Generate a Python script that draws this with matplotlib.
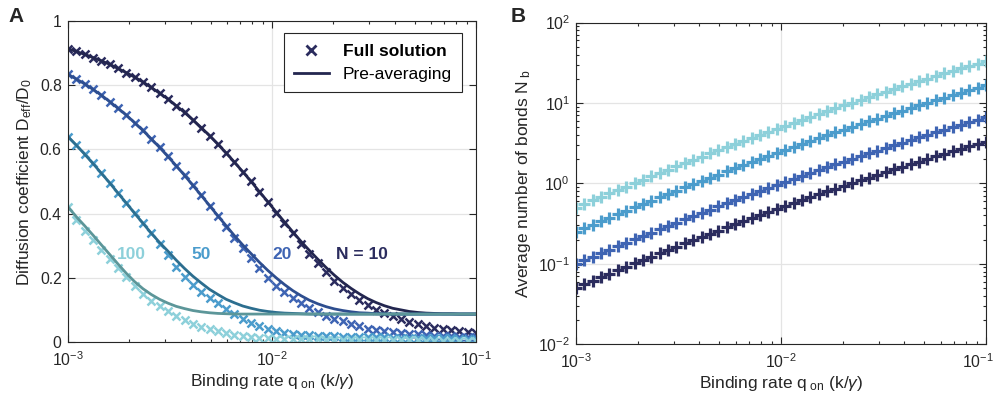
import matplotlib
matplotlib.use('Agg')
import matplotlib.pyplot as plt
import matplotlib.transforms as mtransforms
from matplotlib.lines import Line2D

plt.rcParams['font.family'] = ['Liberation Sans', 'DejaVu Sans']
plt.rcParams['mathtext.fontset'] = 'custom'
plt.rcParams['mathtext.rm'] = 'Liberation Sans'
plt.rcParams['mathtext.it'] = 'Liberation Sans:italic'
plt.rcParams['mathtext.bf'] = 'Liberation Sans:bold'

# binding rate q_on (k/gamma), 50 log-spaced samples
q_on = [0.001000, 0.001099, 0.001207, 0.001326, 0.001456, 0.001600, 0.001758, 0.001931, 0.002121, 0.002330,
        0.002560, 0.002812, 0.003089, 0.003393, 0.003728, 0.004095, 0.004498, 0.004942, 0.005429, 0.005964,
        0.006551, 0.007197, 0.007906, 0.008685, 0.009541, 0.010481, 0.011514, 0.012649, 0.013895, 0.015264,
        0.016768, 0.018421, 0.020236, 0.022230, 0.024421, 0.026827, 0.029471, 0.032375, 0.035565, 0.039069,
        0.042919, 0.047149, 0.051795, 0.056899, 0.062506, 0.068665, 0.075431, 0.082864, 0.091030, 0.100000]

N_values = [10, 20, 50, 100]
N_labels = ['N = 10', '20', '50', '100']

# panel A: pre-averaging (lines)
pre_10 = [0.913, 0.905, 0.896, 0.886, 0.876, 0.865, 0.852, 0.839, 0.825, 0.810,
          0.793, 0.775, 0.757, 0.736, 0.715, 0.692, 0.668, 0.643, 0.616, 0.589,
          0.560, 0.530, 0.500, 0.468, 0.437, 0.405, 0.374, 0.343, 0.313, 0.285,
          0.258, 0.232, 0.208, 0.186, 0.167, 0.150, 0.135, 0.123, 0.113, 0.105,
          0.100, 0.095, 0.092, 0.090, 0.089, 0.088, 0.088, 0.087, 0.087, 0.087]
pre_20 = [0.834, 0.819, 0.804, 0.787, 0.769, 0.749, 0.728, 0.707, 0.683, 0.659,
          0.633, 0.606, 0.578, 0.549, 0.519, 0.488, 0.457, 0.425, 0.393, 0.362,
          0.331, 0.302, 0.275, 0.248, 0.223, 0.200, 0.179, 0.160, 0.144, 0.130,
          0.119, 0.110, 0.103, 0.098, 0.094, 0.091, 0.090, 0.088, 0.088, 0.087,
          0.087, 0.087, 0.087, 0.087, 0.087, 0.087, 0.087, 0.087, 0.087, 0.087]
pre_50 = [0.640, 0.613, 0.585, 0.556, 0.526, 0.496, 0.464, 0.433, 0.401, 0.370,
          0.339, 0.310, 0.283, 0.255, 0.229, 0.205, 0.184, 0.164, 0.148, 0.133,
          0.122, 0.112, 0.105, 0.099, 0.095, 0.092, 0.090, 0.089, 0.088, 0.087,
          0.087, 0.087, 0.087, 0.087, 0.087, 0.087, 0.087, 0.087, 0.087, 0.087,
          0.087, 0.087, 0.087, 0.087, 0.087, 0.087, 0.087, 0.087, 0.087, 0.087]
pre_100 = [0.421, 0.390, 0.362, 0.333, 0.303, 0.273, 0.243, 0.214, 0.188, 0.166,
           0.148, 0.133, 0.121, 0.111, 0.104, 0.098, 0.094, 0.091, 0.089, 0.088,
           0.087, 0.087, 0.087, 0.087, 0.087, 0.087, 0.087, 0.087, 0.087, 0.087,
           0.087, 0.087, 0.087, 0.087, 0.087, 0.087, 0.087, 0.087, 0.087, 0.087,
           0.087, 0.087, 0.087, 0.087, 0.087, 0.087, 0.087, 0.087, 0.087, 0.087]

# panel A: full solution (x markers)
full_10 = [0.913, 0.905, 0.896, 0.886, 0.876, 0.865, 0.852, 0.839, 0.825, 0.810,
           0.793, 0.775, 0.757, 0.736, 0.715, 0.692, 0.668, 0.643, 0.616, 0.589,
           0.560, 0.530, 0.500, 0.468, 0.435, 0.402, 0.370, 0.338, 0.306, 0.275,
           0.245, 0.217, 0.191, 0.168, 0.148, 0.130, 0.114, 0.101, 0.091, 0.080,
           0.071, 0.063, 0.055, 0.049, 0.044, 0.040, 0.036, 0.033, 0.030, 0.027]
full_20 = [0.834, 0.819, 0.804, 0.787, 0.769, 0.749, 0.728, 0.707, 0.683, 0.659,
           0.633, 0.606, 0.578, 0.549, 0.519, 0.488, 0.457, 0.425, 0.391, 0.358,
           0.325, 0.293, 0.262, 0.229, 0.199, 0.175, 0.155, 0.137, 0.121, 0.106,
           0.093, 0.082, 0.072, 0.064, 0.056, 0.049, 0.042, 0.037, 0.034, 0.031,
           0.028, 0.026, 0.024, 0.022, 0.020, 0.019, 0.018, 0.017, 0.016, 0.015]
full_50 = [0.640, 0.613, 0.585, 0.556, 0.526, 0.496, 0.464, 0.433, 0.401, 0.370,
           0.339, 0.305, 0.270, 0.234, 0.203, 0.176, 0.155, 0.137, 0.120, 0.103,
           0.087, 0.073, 0.060, 0.049, 0.040, 0.033, 0.028, 0.025, 0.023, 0.021,
           0.020, 0.019, 0.018, 0.017, 0.016, 0.015, 0.015, 0.014, 0.014, 0.013,
           0.013, 0.012, 0.012, 0.012, 0.011, 0.011, 0.011, 0.010, 0.010, 0.010]
full_100 = [0.421, 0.381, 0.347, 0.318, 0.288, 0.259, 0.230, 0.201, 0.173, 0.150,
            0.128, 0.112, 0.097, 0.082, 0.068, 0.057, 0.048, 0.040, 0.033, 0.027,
            0.022, 0.018, 0.015, 0.013, 0.011, 0.010, 0.009, 0.009, 0.008, 0.008,
            0.008, 0.007, 0.007, 0.007, 0.006, 0.006, 0.006, 0.006, 0.005, 0.005,
            0.005, 0.005, 0.005, 0.004, 0.004, 0.004, 0.004, 0.004, 0.004, 0.004]

# panel B: average number of bonds
nb_10 = [0.0501, 0.0555, 0.0614, 0.0679, 0.0751, 0.0829, 0.0915, 0.101, 0.111, 0.123,
         0.135, 0.148, 0.163, 0.179, 0.197, 0.216, 0.236, 0.259, 0.283, 0.310,
         0.339, 0.370, 0.404, 0.441, 0.480, 0.523, 0.569, 0.619, 0.673, 0.731,
         0.794, 0.861, 0.934, 1.01, 1.09, 1.18, 1.28, 1.38, 1.49, 1.61,
         1.74, 1.87, 2.01, 2.17, 2.33, 2.50, 2.69, 2.88, 3.09, 3.31]
nb_20 = [0.100, 0.111, 0.123, 0.136, 0.150, 0.166, 0.183, 0.202, 0.222, 0.245,
         0.270, 0.297, 0.326, 0.358, 0.393, 0.431, 0.472, 0.518, 0.567, 0.620,
         0.677, 0.740, 0.808, 0.881, 0.960, 1.05, 1.14, 1.24, 1.35, 1.46,
         1.59, 1.72, 1.87, 2.02, 2.19, 2.37, 2.56, 2.77, 2.99, 3.22,
         3.47, 3.74, 4.03, 4.33, 4.66, 5.01, 5.38, 5.77, 6.18, 6.62]
nb_50 = [0.251, 0.277, 0.307, 0.340, 0.376, 0.415, 0.458, 0.505, 0.556, 0.613,
         0.675, 0.742, 0.816, 0.896, 0.983, 1.08, 1.18, 1.29, 1.42, 1.55,
         1.69, 1.85, 2.02, 2.20, 2.40, 2.62, 2.85, 3.10, 3.37, 3.66,
         3.97, 4.31, 4.67, 5.06, 5.47, 5.92, 6.40, 6.92, 7.47, 8.05,
         8.68, 9.35, 10.1, 10.8, 11.7, 12.5, 13.4, 14.4, 15.5, 16.6]
nb_100 = [0.501, 0.555, 0.614, 0.679, 0.751, 0.829, 0.915, 1.01, 1.11, 1.23,
          1.35, 1.48, 1.63, 1.79, 1.97, 2.16, 2.36, 2.59, 2.83, 3.10,
          3.39, 3.70, 4.04, 4.41, 4.80, 5.23, 5.69, 6.19, 6.73, 7.31,
          7.94, 8.61, 9.34, 10.1, 10.9, 11.8, 12.8, 13.8, 14.9, 16.1,
          17.4, 18.7, 20.1, 21.7, 23.3, 25.0, 26.9, 28.8, 30.9, 33.1]

pre = [pre_10, pre_20, pre_50, pre_100]
full = [full_10, full_20, full_50, full_100]
nb = [nb_10, nb_20, nb_50, nb_100]

marker_cols = ['#2b2c5e', '#3e64b3', '#4b9ccc', '#8dd0da']
line_cols = ['#23264f', '#2e4e8f', '#2c6e8f', '#5c9699']
label_pos = [0.0276, 0.0112, 0.00449, 0.00204]
dark = '#262626'


def style(ax):
    ax.tick_params(which='both', direction='in', top=True, right=True,
                   colors=dark, labelsize=11.3, width=0.8)
    ax.tick_params(which='major', length=5)
    ax.tick_params(which='minor', length=2.5)
    ax.tick_params(axis='x', which='both', pad=6)
    ax.tick_params(axis='y', which='both', pad=4.5)
    for s in ax.spines.values():
        s.set_color(dark)
        s.set_linewidth(0.8)
    ax.grid(True, which='major', color='#e4e4e4', lw=0.9)
    ax.set_axisbelow(True)


fig = plt.figure(figsize=(9.98, 4.04), dpi=100)
axA = fig.add_axes([0.0681, 0.1535, 0.4088, 0.7946])
axB = fig.add_axes([0.5772, 0.148, 0.4108, 0.796])

# --- panel A
for i in range(4):
    axA.plot(q_on, full[i], ls='none', marker='x', ms=6, mew=1.8, color=marker_cols[i])
    axA.plot(q_on, pre[i], '-', lw=2, color=line_cols[i])
    axA.text(label_pos[i], 0.272, N_labels[i], color=marker_cols[i], fontsize=12.5,
             weight='bold', ha='center', va='center')

axA.set_xscale('log')
axA.set_xlim(1e-3, 1e-1)
axA.set_ylim(0, 1)
axA.set_yticks([0, 0.2, 0.4, 0.6, 0.8, 1])
axA.set_yticklabels(['0', '0.2', '0.4', '0.6', '0.8', '1'])
style(axA)
axA.set_xlabel(r'Binding rate q$_{\ \mathrm{on}}$ (k/$\mathit{\gamma}$)', fontsize=12.5, color=dark, labelpad=2)
axA.set_ylabel(r'Diffusion coefficient D$_{\mathrm{eff}}$/D$_{\mathrm{0}}$', fontsize=12.5, color=dark)

handles = [Line2D([], [], ls='none', marker='x', ms=7, mew=2, color=marker_cols[0]),
           Line2D([], [], lw=2, color=line_cols[0])]
leg = axA.legend(handles, ['Full solution', 'Pre-averaging'], loc='upper right',
                 bbox_to_anchor=(0.966, 0.962), borderaxespad=0, fontsize=12.5,
                 fancybox=False, edgecolor=dark, framealpha=1, handlelength=2.0,
                 borderpad=0.6, labelspacing=0.45)
leg.get_frame().set_linewidth(0.8)
leg.get_texts()[0].set_weight('bold')

# --- panel B
for i in range(4):
    axB.plot(q_on, nb[i], ls='none', marker='+', ms=9, mew=2.3, color=marker_cols[i])

axB.set_xscale('log')
axB.set_yscale('log')
axB.set_xlim(1e-3, 1e-1)
axB.set_ylim(1e-2, 1e2)
style(axB)
axB.set_xlabel(r'Binding rate q$_{\ \mathrm{on}}$ (k/$\mathit{\gamma}$)', fontsize=12.5, color=dark, labelpad=2)
axB.set_ylabel(r'Average number of bonds N$_{\ \mathrm{b}}$', fontsize=12.5, color=dark)

# keep the last x tick label of panel B inside the figure
fig.canvas.draw()
shift = mtransforms.ScaledTranslation(-6 / 72, 0, fig.dpi_scale_trans)
for lab in axB.get_xticklabels():
    if lab.get_position()[0] > 0.05:
        lab.set_transform(lab.get_transform() + shift)

fig.text(0.009, 0.958, 'A', fontsize=15, weight='bold', color=dark, va='center')
fig.text(0.512, 0.958, 'B', fontsize=15, weight='bold', color=dark, va='center')

fig.savefig('out.png', dpi=100)
